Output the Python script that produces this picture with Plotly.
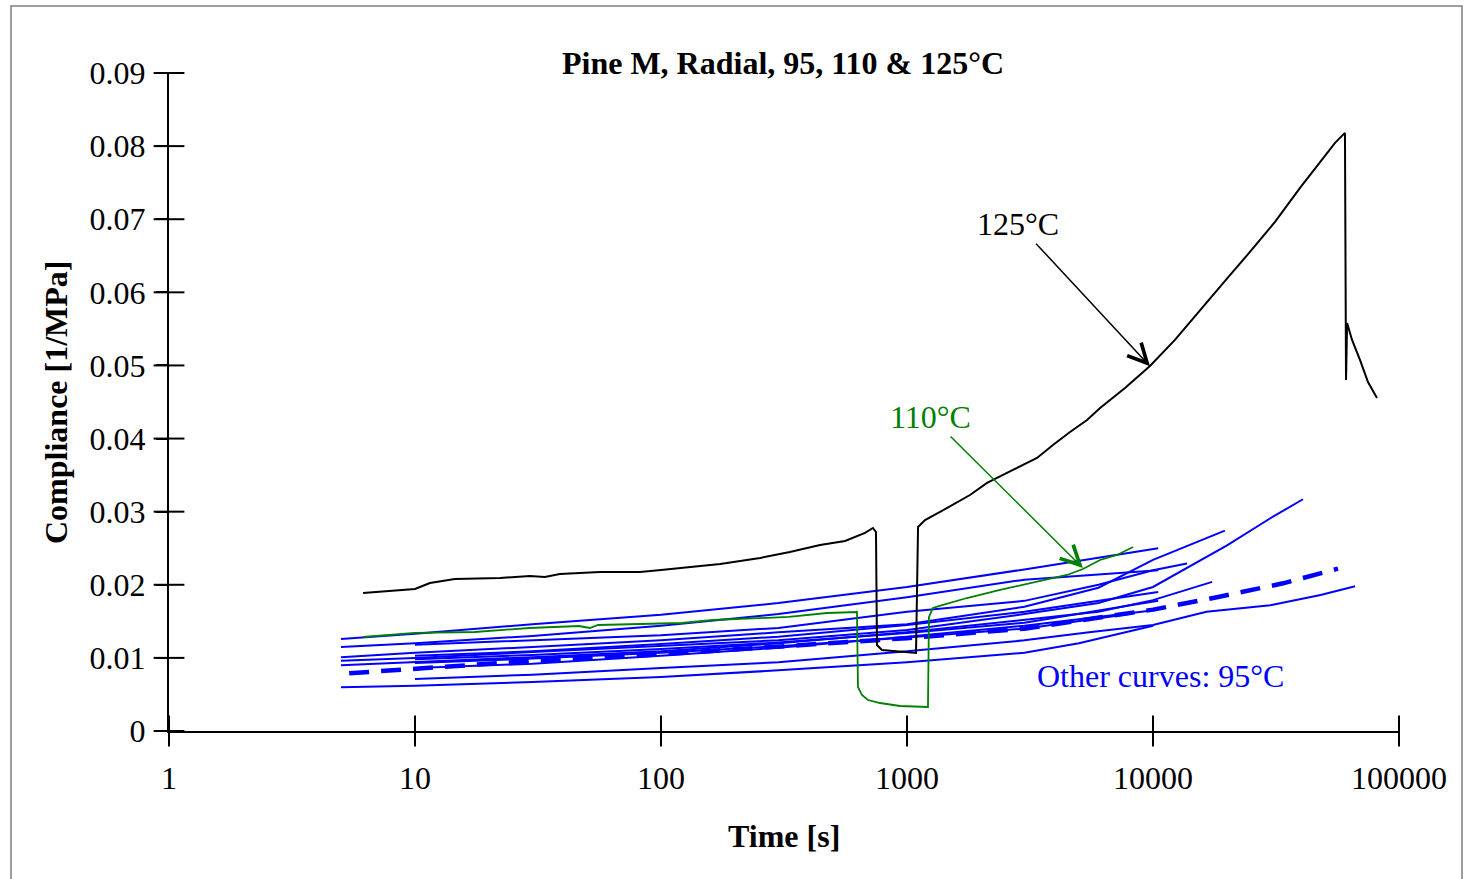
import numpy as np
import plotly.graph_objects as go

# ---------------- data (time in s, compliance in 1/MPa) ----------------
t125 = [6.15, 10, 11.5, 14.5, 22.2, 29.3, 33.7, 38.8, 56.5, 82.2, 100, 131, 174, 253, 334, 443,
        560, 675, 727, 748, 755, 791, 893, 1028, 1088, 1109, 1184, 1362, 1597, 1803, 2115, 2456,
        2880, 3376, 3920, 4600, 5395, 6093, 7695, 9720, 12280, 15520, 19630, 24780, 31330, 39600,
        47760, 54960, 60300, 60900, 61520, 64440, 69400, 74800, 81400]
c125 = [0.01888, 0.01943, 0.02025, 0.0208, 0.02093, 0.0212, 0.02107, 0.02148, 0.02175, 0.02175,
        0.02202, 0.02243, 0.02285, 0.02367, 0.02449, 0.02544, 0.02599, 0.02709, 0.02777, 0.02722,
        0.01176, 0.01108, 0.01094, 0.01081, 0.01067, 0.02791, 0.02886, 0.02996, 0.03133, 0.03228,
        0.03393, 0.03502, 0.03611, 0.03735, 0.03912, 0.0409, 0.04254, 0.04419, 0.04692, 0.04993,
        0.05349, 0.05759, 0.06156, 0.06553, 0.06963, 0.07428, 0.07784, 0.08044, 0.08181, 0.04802,
        0.05581, 0.05349, 0.05075, 0.04774, 0.04555]

t110 = [6.15, 10, 17.5, 29.1, 46.4, 51.4, 55.5, 121.6, 162.6, 331, 473, 626, 632, 656, 694, 777,
        937, 1217, 1228, 1275, 1400, 1753, 2388, 3252, 4470, 5190, 6090, 7140, 8300]
c110 = [0.01286, 0.01341, 0.01354, 0.01409, 0.01436, 0.01409, 0.0145, 0.01477, 0.01518, 0.0156,
        0.01614, 0.01628, 0.00602, 0.00492, 0.00424, 0.00383, 0.00342, 0.00328, 0.0156, 0.01683,
        0.01724, 0.01819, 0.01929, 0.02025, 0.02134, 0.02216, 0.02339, 0.02408, 0.02517]

# 95 °C curves
bA_t = [5, 10, 30, 100, 300, 1000, 3000, 10500]
bA_c = [0.0126, 0.0133, 0.0146, 0.0159, 0.0175, 0.0197, 0.0221, 0.0250]
bB_t = [5, 10, 30, 100, 300, 1000, 3000, 10500]
bB_c = [0.0115, 0.0120, 0.0130, 0.0144, 0.0160, 0.0183, 0.0207, 0.0220]
bC_t = [10, 30, 100, 300, 1000, 3000, 6000, 10000, 13750]
bC_c = [0.0118, 0.0124, 0.0131, 0.0141, 0.0163, 0.0178, 0.0200, 0.0220, 0.0229]
bD_t = [5, 10, 30, 100, 300, 1000, 3000, 6000, 10000, 14000, 19600]
bD_c = [0.0101, 0.0107, 0.0115, 0.0124, 0.0135, 0.0146, 0.0170, 0.0196, 0.0234, 0.0254, 0.0274]
bE_t = [5, 10, 30, 100, 300, 1000, 3000, 6000, 10000, 20000, 30000, 40700]
bE_c = [0.0096, 0.0100, 0.0108, 0.0116, 0.0124, 0.0138, 0.0160, 0.0175, 0.0197, 0.0254, 0.0291, 0.0317]
bF_t = [5, 10, 30, 100, 300, 1000, 3000, 6000, 10000, 17400]
bF_c = [0.0090, 0.0094, 0.0101, 0.0109, 0.0120, 0.0135, 0.0152, 0.0163, 0.0179, 0.0204]
bG_t = [10, 30, 100, 300, 1000, 3000, 10500]
bG_c = [0.0086, 0.0092, 0.0103, 0.0114, 0.0129, 0.0144, 0.0166]
bH_t = [10, 30, 100, 300, 1000, 3000, 5500, 10000, 16500, 30000, 48000, 66300]
bH_c = [0.0071, 0.0077, 0.0086, 0.0094, 0.0109, 0.0124, 0.0135, 0.0145, 0.0163, 0.0172, 0.0186, 0.0198]
bI_t = [5, 10, 30, 100, 300, 1000, 3000, 5000, 10000]
bI_c = [0.0060, 0.0062, 0.0067, 0.0074, 0.0083, 0.0094, 0.0107, 0.0120, 0.0144]
bJ_t = [10, 30, 100, 300, 1000, 3000, 10500]
bJ_c = [0.0103, 0.0109, 0.0119, 0.0129, 0.0145, 0.0163, 0.0190]
bK_t = [10, 30, 100, 300, 1000, 3000, 10500]
bK_c = [0.0098, 0.0104, 0.0112, 0.0121, 0.0134, 0.0148, 0.0178]
bL_t = [10, 30, 100, 300, 1000, 3000, 8000]
bL_c = [0.0093, 0.0099, 0.0107, 0.0116, 0.0128, 0.0140, 0.0160]
bDash_t = [5.4, 10, 30, 100, 300, 1000, 3000, 7000, 10000, 18200, 33800, 56500]
bDash_c = [0.0079, 0.0085, 0.0096, 0.0105, 0.0115, 0.0127, 0.0140, 0.0159, 0.0166, 0.0183, 0.0202, 0.0222]

x_ticks = [1, 10, 100, 1000, 10000, 100000]
x_ticktext = ["1", "10", "100", "1000", "10000", "100000"]
y_ticks = [0, 0.01, 0.02, 0.03, 0.04, 0.05, 0.06, 0.07, 0.08, 0.09]
y_ticktext = ["0", "0.01", "0.02", "0.03", "0.04", "0.05", "0.06", "0.07", "0.08", "0.09"]

FONT = "Liberation Serif, Times New Roman, serif"
FS = 32
BLUE = "#0000FF"
GREEN = "#008000"

fig = go.Figure()

blue_solid = [(bA_t, bA_c), (bB_t, bB_c), (bC_t, bC_c), (bD_t, bD_c), (bE_t, bE_c), (bF_t, bF_c),
              (bG_t, bG_c), (bH_t, bH_c), (bI_t, bI_c), (bJ_t, bJ_c), (bK_t, bK_c), (bL_t, bL_c)]
for tt, cc in blue_solid:
    fig.add_trace(go.Scatter(x=tt, y=cc, mode="lines", line=dict(color=BLUE, width=2),
                             showlegend=False, hoverinfo="skip"))
fig.add_trace(go.Scatter(x=bDash_t, y=bDash_c, mode="lines",
                         line=dict(color=BLUE, width=4.5, dash="20px,12px"),
                         showlegend=False, hoverinfo="skip"))
fig.add_trace(go.Scatter(x=t110, y=c110, mode="lines", line=dict(color=GREEN, width=1.8),
                         showlegend=False, hoverinfo="skip"))
fig.add_trace(go.Scatter(x=t125, y=c125, mode="lines", line=dict(color="black", width=2),
                         showlegend=False, hoverinfo="skip"))

# crossing tick marks (drawn as short line markers centred on the axes at the tick values)
fig.add_trace(go.Scatter(x=x_ticks, y=[y_ticks[0]] * len(x_ticks), mode="markers",
                         marker=dict(symbol="line-ns", size=22, line=dict(color="black", width=2)),
                         cliponaxis=False, showlegend=False, hoverinfo="skip"))
fig.add_trace(go.Scatter(x=[x_ticks[0]] * len(y_ticks), y=y_ticks, mode="markers",
                         marker=dict(symbol="line-ew", size=22, line=dict(color="black", width=2)),
                         cliponaxis=False, showlegend=False, hoverinfo="skip"))

axis_common = dict(showgrid=False, zeroline=False, linecolor="black", linewidth=2,
                   tickcolor="black", tickwidth=2, ticklen=11)

fig.update_layout(
    width=1465, height=879,
    margin=dict(l=169, r=66, t=73, b=148),
    paper_bgcolor="white", plot_bgcolor="white",
    font=dict(family=FONT, size=FS, color="black"),
    title=dict(text="<b>Pine M, Radial, 95, 110 &amp; 125°C</b>", x=783 / 1465, xanchor="center",
               y=1 - 63 / 879, yanchor="middle", font=dict(family=FONT, size=FS, color="black")),
    xaxis=dict(type="log", range=[0, 5], tickvals=x_ticks, ticktext=x_ticktext, ticks="outside",
               showline=True, tickfont=dict(size=FS), ticklabelstandoff=7, **axis_common),
    yaxis=dict(range=[0, 0.09], tickvals=y_ticks, ticktext=y_ticktext, ticks="outside",
               showline=True, tickfont=dict(size=FS), ticklabelstandoff=4, **axis_common),
)

pw, ph = 1465 - 169 - 66, 879 - 73 - 148

annotations = [
    dict(text="<b>Time [s]</b>", xref="paper", yref="paper", x=(784 - 169) / pw,
         y=(731 - 836) / ph, showarrow=False, xanchor="center", yanchor="middle",
         font=dict(family=FONT, size=FS)),
    dict(text="<b>Compliance [1/MPa]</b>", xref="paper", yref="paper", x=(56 - 169) / pw,
         y=0.5, showarrow=False, xanchor="center", yanchor="middle", textangle=-90,
         font=dict(family=FONT, size=FS)),
    dict(text="125°C", x=np.log10(9720), y=0.0499, xref="x", yref="y", showarrow=True,
         ax=-132, ay=-142, arrowhead=5, arrowsize=2.5, arrowwidth=1.5, arrowcolor="black",
         font=dict(family=FONT, size=FS, color="black")),
    dict(text="110°C", x=np.log10(5190), y=0.0223, xref="x", yref="y", showarrow=True,
         ax=-152, ay=-151, arrowhead=5, arrowsize=2.5, arrowwidth=1.5, arrowcolor=GREEN,
         font=dict(family=FONT, size=FS, color=GREEN)),
    dict(text="Other curves: 95°C", x=(1160 - 169) / 246, y=0.0075,
         xref="x", yref="y", showarrow=False, xanchor="center", yanchor="middle",
         font=dict(family=FONT, size=FS, color=BLUE)),
]
fig.update_layout(annotations=annotations)

# outer chart border
fig.add_shape(type="rect", xref="paper", yref="paper",
              x0=(11 - 169) / pw, x1=(1462 - 169) / pw, y0=(731 - 890) / ph, y1=(731 - 6) / ph,
              line=dict(color="#808080", width=1.5), fillcolor="rgba(0,0,0,0)", layer="below")

fig.write_html("out.html")
